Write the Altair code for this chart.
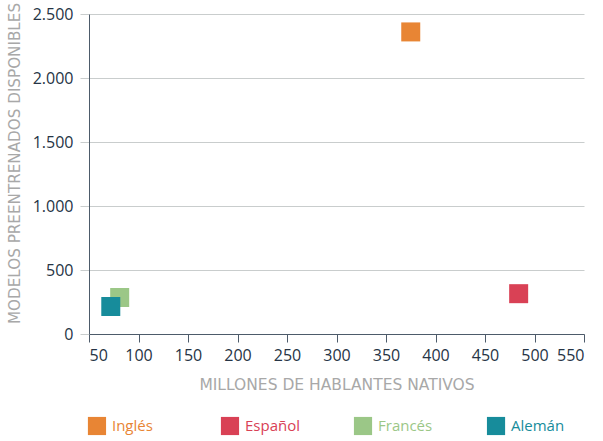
import altair as alt
import pandas as pd

# Languages: native speakers (millions) vs. available pretrained models
idiomas = ["Inglés", "Español", "Francés", "Alemán"]
hablantes = [375, 484, 81, 72]
modelos = [2360, 315, 285, 215]
colores = ["#E88534", "#D94155", "#9BC787", "#178C9B"]

df = pd.DataFrame({"idioma": idiomas, "hablantes": hablantes, "modelos": modelos})

FONT = "Open Sans"
TITLE_FONT = "DejaVu Sans"
color_scale = alt.Scale(domain=idiomas, range=colores)

scatter = alt.Chart(df).mark_square(size=361, opacity=1).encode(
    x=alt.X(
        "hablantes:Q",
        scale=alt.Scale(domain=[50, 550], nice=False, zero=False),
        axis=alt.Axis(
            title="MILLONES DE HABLANTES NATIVOS",
            values=list(range(50, 551, 50)),
            grid=False,
            domainColor="#4d5b6a",
            tickColor="#4d5b6a",
            tickSize=8,
            labelColor="#263445",
            labelFontSize=16,
            labelPadding=5,
            titleColor="#a8a8a8",
            titleFont=TITLE_FONT,
            titleFontSize=15.5,
            titleFontWeight="normal",
            titlePadding=14,
        ),
    ),
    y=alt.Y(
        "modelos:Q",
        scale=alt.Scale(domain=[0, 2500], nice=False),
        axis=alt.Axis(
            title="MODELOS PREENTRENADOS DISPONIBLES",
            values=[0, 500, 1000, 1500, 2000, 2500],
            labelExpr="replace(format(datum.value, ','), ',', '.')",
            gridColor="#c9cdcd",
            domainColor="#4d5b6a",
            tickColor="#c9cdcd",
            tickSize=9,
            labelColor="#263445",
            labelFontSize=16,
            labelPadding=7,
            titleColor="#a8a8a8",
            titleFont=TITLE_FONT,
            titleFontSize=15.2,
            titleFontWeight="normal",
            titlePadding=10,
            titleY=149,
        ),
    ),
    color=alt.Color("idioma:N", scale=color_scale, legend=None),
).properties(width=495, height=320)

# Custom legend row beneath the plot
legend_base = alt.Chart(df).encode(
    x=alt.X(
        "idioma:N",
        sort=idiomas,
        scale=alt.Scale(type="point", padding=0.06),
        axis=None,
    ),
    color=alt.Color("idioma:N", scale=color_scale, legend=None),
)
legend_sq = legend_base.mark_square(size=330, opacity=1)
legend_txt = legend_base.mark_text(
    align="left", baseline="middle", dx=15, fontSize=15, font=FONT
).encode(text="idioma:N")
legend = alt.layer(legend_sq, legend_txt).properties(width=415, height=20)

chart = alt.vconcat(scatter, legend, spacing=23).properties(
    padding={"left": 7, "top": 2, "right": 5, "bottom": 0}
).configure(font=FONT).configure_view(stroke=None).configure_concat(spacing=23)

chart.save("out.html", embed_options={"renderer": "svg", "actions": False})
